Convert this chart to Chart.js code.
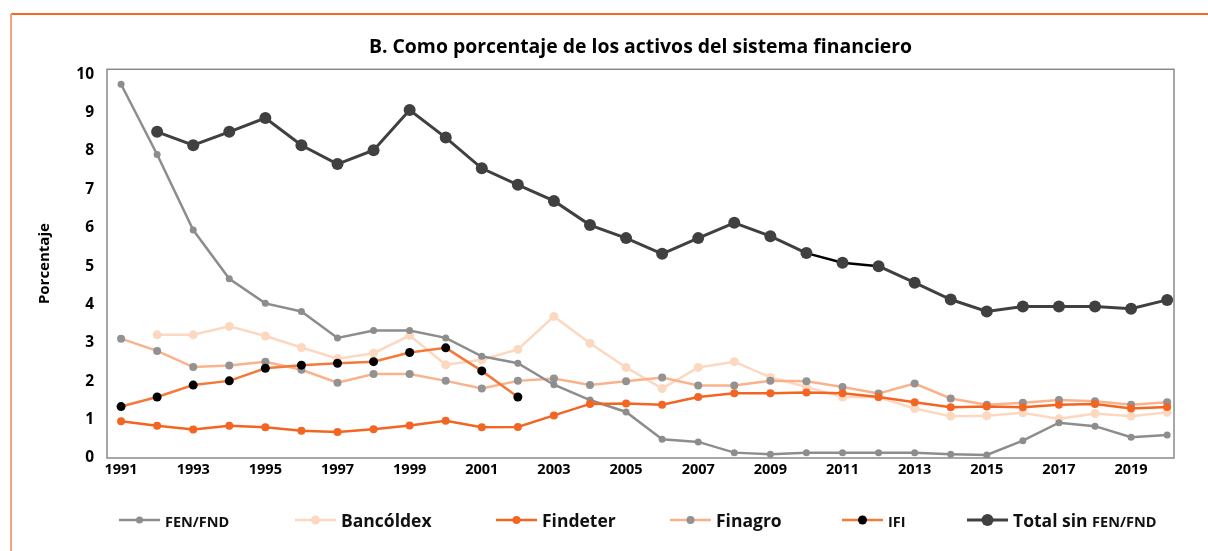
<!DOCTYPE html>
<html>
<head>
<meta charset="utf-8">
<script src="https://cdn.jsdelivr.net/npm/chart.js@4.4.1/dist/chart.umd.min.js"></script>
<style>
  html, body { margin: 0; padding: 0; background: #fff; }
  #wrap { position: relative; width: 1208px; height: 551px; font-family: "Open Sans", sans-serif; }
  #frameTop { position: absolute; left: 11px; top: 13px; width: 1197px; height: 2px; background: #f26a25; }
  #frameLeft { position: absolute; left: 10px; top: 14px; width: 2px; height: 537px; background: #f5a27e; }
  #legend { position: absolute; left: 0; top: 506px; width: 1208px; height: 28px; }
  .item { position: absolute; top: 0; height: 28px; display: flex; align-items: center; font-weight: bold; color: #111; font-size: 17.5px; }
  .item svg { margin-right: 5px; }
  .small { font-size: 14.5px; }
</style>
</head>
<body>
<div id="wrap">
  <canvas id="chart" width="1208" height="551"></canvas>
  <div id="frameTop"></div>
  <div id="frameLeft"></div>
  <div id="legend"></div>
</div>
<script>
// Años
const years = [1991, 1992, 1993, 1994, 1995, 1996, 1997, 1998, 1999, 2000,
               2001, 2002, 2003, 2004, 2005, 2006, 2007, 2008, 2009, 2010,
               2011, 2012, 2013, 2014, 2015, 2016, 2017, 2018, 2019, 2020];
const yearTicks = [1991, 1993, 1995, 1997, 1999, 2001, 2003, 2005, 2007, 2009, 2011, 2013, 2015, 2017, 2019];
const yTicks = [0, 1, 2, 3, 4, 5, 6, 7, 8, 9, 10];

// Series (% de los activos del sistema financiero)
const fenFnd = [9.74, 7.91, 5.94, 4.67, 4.03, 3.82, 3.13, 3.32, 3.32, 3.13,
                2.65, 2.47, 1.91, 1.51, 1.20, 0.49, 0.42, 0.14, 0.10, 0.14,
                0.14, 0.14, 0.14, 0.10, 0.08, 0.45, 0.92, 0.83, 0.54, 0.60];
const bancoldex = [null, 3.21, 3.21, 3.43, 3.18, 2.88, 2.59, 2.73, 3.19, 2.43,
                   2.56, 2.83, 3.69, 2.99, 2.36, 1.81, 2.36, 2.51, 2.10, 1.85,
                   1.59, 1.58, 1.29, 1.09, 1.10, 1.18, 1.02, 1.16, 1.09, 1.19];
const findeter = [0.96, 0.84, 0.74, 0.84, 0.80, 0.71, 0.68, 0.75, 0.85, 0.97,
                  0.80, 0.81, 1.11, 1.41, 1.42, 1.39, 1.59, 1.69, 1.69, 1.71,
                  1.69, 1.59, 1.45, 1.32, 1.34, 1.32, 1.39, 1.41, 1.29, 1.33];
const finagro = [3.11, 2.79, 2.37, 2.41, 2.51, 2.30, 1.96, 2.19, 2.19, 2.01,
                 1.81, 2.01, 2.07, 1.90, 2.00, 2.10, 1.89, 1.89, 2.01, 2.00,
                 1.85, 1.68, 1.94, 1.55, 1.39, 1.44, 1.51, 1.48, 1.39, 1.45];
const ifi = [1.34, 1.59, 1.90, 2.01, 2.34, 2.42, 2.47, 2.51, 2.75, 2.87,
             2.27, 1.59, null, null, null, null, null, null, null, null,
             null, null, null, null, null, null, null, null, null, null];
const totalSinFen = [null, 8.50, 8.15, 8.50, 8.86, 8.15, 7.66, 8.02, 9.07, 8.35,
                     7.55, 7.12, 6.70, 6.07, 5.73, 5.32, 5.73, 6.13, 5.78, 5.34,
                     5.09, 5.00, 4.57, 4.13, 3.82, 3.95, 3.95, 3.95, 3.89, 4.12];

const seriesNames = ['FEN/FND', 'Bancóldex', 'Findeter', 'Finagro', 'IFI', 'Total sin FEN/FND'];
const seriesData = [fenFnd, bancoldex, findeter, finagro, ifi, totalSinFen];

const styles = [
  { line: '#8d8d8d', dot: '#8d8d8d', r: 3.5, w: 2.5, order: 4 },
  { line: '#fdd8c1', dot: '#fdd8c1', r: 4.5, w: 2.5, order: 6 },
  { line: '#f26522', dot: '#f26522', r: 4, w: 2.5, order: 2 },
  { line: '#fbb28b', dot: '#929292', r: 4, w: 2.5, order: 5 },
  { line: '#f47a3c', dot: '#000000', r: 4.5, w: 2.5, order: 3 },
  { line: '#404040', dot: '#404040', r: 6, w: 3, order: 1 }
];

const toPoints = arr => years.map((y, i) => ({ x: y, y: arr[i] }));

const datasets = seriesNames.map((name, k) => ({
  label: name,
  data: toPoints(seriesData[k]),
  borderColor: styles[k].line,
  backgroundColor: styles[k].dot,
  pointBackgroundColor: styles[k].dot,
  pointBorderColor: styles[k].dot,
  pointBorderWidth: 0,
  pointRadius: styles[k].r,
  borderWidth: styles[k].w,
  order: styles[k].order,
  spanGaps: false,
  tension: 0
}));
// tramo 2010-2012 en negro en el total
datasets[5].segment = {
  borderColor: ctx => (ctx.p0.parsed.x >= 2010 && ctx.p1.parsed.x <= 2012) ? '#000' : undefined,
  borderWidth: ctx => (ctx.p0.parsed.x >= 2010 && ctx.p1.parsed.x <= 2012) ? 2.5 : undefined
};

const plotFrame = {
  id: 'plotFrame',
  afterDraw(chart) {
    const a = chart.chartArea;
    const c = chart.ctx;
    c.save();
    c.strokeStyle = '#8a8a8a';
    c.lineWidth = 1.5;
    c.strokeRect(a.left, a.top, a.right - a.left, a.bottom - a.top);
    c.restore();
  }
};

new Chart(document.getElementById('chart'), {
  type: 'line',
  data: { datasets: datasets },
  plugins: [plotFrame],
  options: {
    responsive: false,
    animation: false,
    layout: { padding: { left: 36, right: 34, top: 0, bottom: 68 } },
    scales: {
      x: {
        type: 'linear',
        min: 1990.61,
        max: 2020.19,
        grid: { display: false, drawTicks: false },
        border: { display: false },
        afterBuildTicks: s => { s.ticks = yearTicks.map(v => ({ value: v })); },
        afterFit: s => { s.height = 25; },
        ticks: {
          padding: 3,
          maxRotation: 0,
          autoSkip: false,
          color: '#000',
          font: { family: 'Open Sans', size: 14.5, weight: 'bold' },
          callback: v => String(v)
        }
      },
      y: {
        min: 0,
        max: 10.13,
        grid: { display: false, drawTicks: false },
        border: { display: false },
        afterBuildTicks: s => { s.ticks = yTicks.map(v => ({ value: v })); },
        afterFit: s => { s.width = 71; },
        ticks: {
          padding: 13,
          color: '#000',
          font: { family: 'Open Sans', size: 15.5, weight: 'bold' }
        },
        title: {
          display: true,
          text: 'Porcentaje',
          color: '#000',
          padding: 0,
          font: { family: 'Open Sans', size: 15, weight: 'bold' }
        }
      }
    },
    plugins: {
      legend: { display: false },
      tooltip: { enabled: false },
      title: {
        display: true,
        fullSize: false,
        text: 'B. Como porcentaje de los activos del sistema financiero',
        color: '#000',
        padding: { top: 36, bottom: 10 },
        font: { family: 'Open Sans', size: 19.4, weight: 'bold', lineHeight: 1.2 }
      }
    }
  }
});

// Leyenda
const legendX = [119, 295, 496, 670, 842, 967];
const legend = document.getElementById('legend');
seriesNames.forEach((name, k) => {
  const st = styles[k];
  const item = document.createElement('div');
  item.className = 'item';
  item.style.left = legendX[k] + 'px';
  const svg = '<svg width="41" height="14"><line x1="0" y1="7" x2="41" y2="7" stroke="' + st.line +
    '" stroke-width="' + st.w + '"/><circle cx="20.5" cy="7" r="' + st.r + '" fill="' + st.dot + '"/></svg>';
  let label = name;
  if (name === 'FEN/FND' || name === 'IFI') label = '<span class="small">' + name + '</span>';
  else label = name.replace('FEN/FND', '<span class="small">FEN/FND</span>');
  item.innerHTML = svg + '<span>' + label + '</span>';
  legend.appendChild(item);
});
</script>
</body>
</html>
